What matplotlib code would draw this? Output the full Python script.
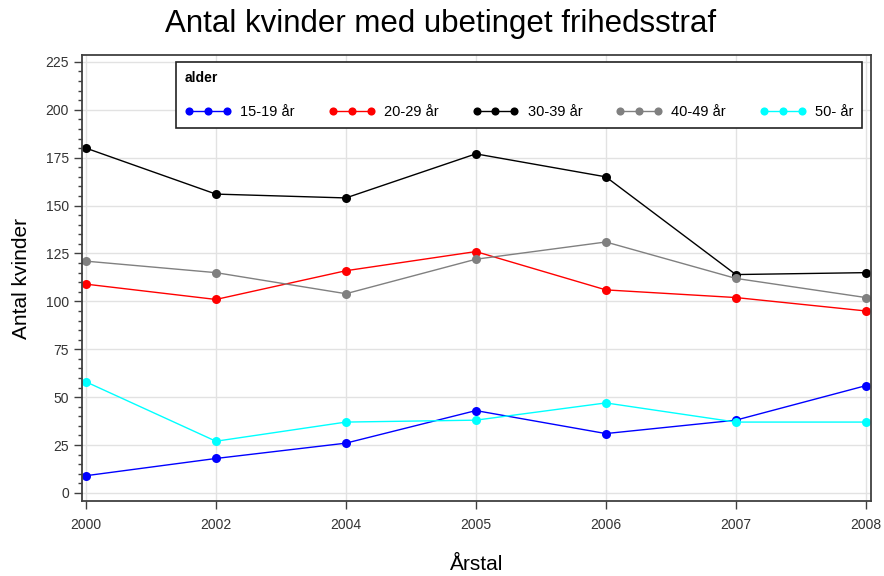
import matplotlib
matplotlib.use("Agg")
import matplotlib.pyplot as plt
from matplotlib.ticker import MultipleLocator
import numpy as np

plt.rcParams["font.family"] = ["Liberation Sans", "DejaVu Sans"]

years = ["2000", "2002", "2004", "2005", "2006", "2007", "2008"]
age_groups = ["15-19 år", "20-29 år", "30-39 år", "40-49 år", "50- år"]
colors = ["#0000ff", "#ff0000", "#000000", "#808080", "#00ffff"]

count_15_19 = [9, 18, 26, 43, 31, 38, 56]
count_20_29 = [109, 101, 116, 126, 106, 102, 95]
count_30_39 = [180, 156, 154, 177, 165, 114, 115]
count_40_49 = [121, 115, 104, 122, 131, 112, 102]
count_50 = [58, 27, 37, 38, 47, 37, 37]

series = [count_15_19, count_20_29, count_30_39, count_40_49, count_50]

fig = plt.figure(figsize=(8.84, 5.76), dpi=100)
ax = fig.add_axes([0.0928, 0.1302, 0.8925, 0.7743])

x = np.arange(len(years))
for label, vals, col in zip(age_groups, series, colors):
    ax.plot(x, vals, color=col, lw=1.0, marker="o", ms=6.5,
            markeredgewidth=0, label=label)

ax.set_xlim(-0.03, len(years) - 1 + 0.04)
ax.set_ylim(-4.2, 228.6)
ax.set_xticks(x)
ax.set_xticklabels(years)
ax.yaxis.set_major_locator(MultipleLocator(25))
ax.yaxis.set_minor_locator(MultipleLocator(5))

ax.grid(True, which="major", color="#e2e2e2", lw=1.0)
ax.set_axisbelow(True)
for spine in ax.spines.values():
    spine.set_color("#404040")
    spine.set_linewidth(1.3)

ax.tick_params(axis="both", which="major", direction="out", length=6,
               width=1, color="#404040", labelsize=10, labelcolor="#333333")
ax.tick_params(axis="y", which="minor", direction="out", length=3,
               width=1, color="#404040")
ax.tick_params(axis="x", pad=6)

ax.set_xlabel("Årstal", fontsize=15, labelpad=17)
ax.set_ylabel("Antal kvinder", fontsize=15, labelpad=10)
fig.suptitle("Antal kvinder med ubetinget frihedsstraf", fontsize=22.5,
             x=0.498, y=0.985)

leg = ax.legend(loc="lower left", bbox_to_anchor=(0.119, 0.836, 0.87, 0.148),
                mode="expand", ncol=5, title="alder", numpoints=3,
                handlelength=3.2, markerscale=0.9, fontsize=10.5,
                fancybox=False, edgecolor="#222222", framealpha=1,
                borderaxespad=0, alignment="left", borderpad=0.6,
                labelspacing=1.4, handletextpad=0.6)
leg.get_title().set_fontweight("bold")
leg.get_title().set_fontsize(10)
leg.get_frame().set_linewidth(1.2)

fig.savefig("out.png", dpi=100, facecolor="white")
